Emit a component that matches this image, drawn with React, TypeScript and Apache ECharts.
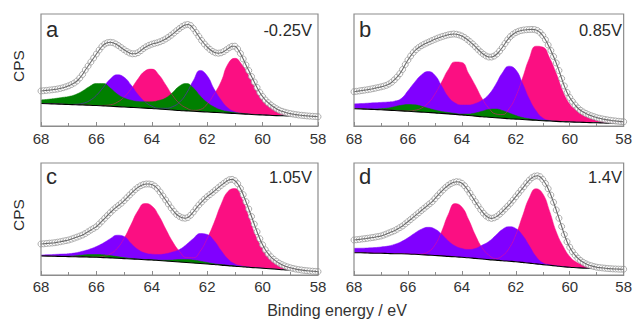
import React, { useEffect, useRef } from "react";
import * as echarts from "echarts";

// Binding energies (eV) of the fitted-component curves and of the measured scan
const componentEnergy = [68, 67.75, 67.5, 67.25, 67, 66.75, 66.5, 66.25, 66, 65.75, 65.5, 65.25, 65, 64.75, 64.5, 64.25, 64, 63.75, 63.5, 63.25, 63, 62.75, 62.5, 62.25, 62, 61.75, 61.5, 61.25, 61, 60.75, 60.5, 60.25, 60, 59.75, 59.5, 59.25, 59, 58.75, 58.5, 58.25, 58];
const scanEnergy = [68, 67.9, 67.8, 67.7, 67.6, 67.5, 67.4, 67.3, 67.2, 67.1, 67, 66.9, 66.8, 66.7, 66.6, 66.5, 66.4, 66.3, 66.2, 66.1, 66, 65.9, 65.8, 65.7, 65.6, 65.5, 65.4, 65.3, 65.2, 65.1, 65, 64.9, 64.8, 64.7, 64.6, 64.5, 64.4, 64.3, 64.2, 64.1, 64, 63.9, 63.8, 63.7, 63.6, 63.5, 63.4, 63.3, 63.2, 63.1, 63, 62.9, 62.8, 62.7, 62.6, 62.5, 62.4, 62.3, 62.2, 62.1, 62, 61.9, 61.8, 61.7, 61.6, 61.5, 61.4, 61.3, 61.2, 61.1, 61, 60.9, 60.8, 60.7, 60.6, 60.5, 60.4, 60.3, 60.2, 60.1, 60, 59.9, 59.8, 59.7, 59.6, 59.5, 59.4, 59.3, 59.2, 59.1, 59, 58.9, 58.8, 58.7, 58.6, 58.5, 58.4, 58.3, 58.2, 58.1, 58];

const panelLetters = ["a", "b", "c", "d"];
const potentials = ["-0.25V", "0.85V", "1.05V", "1.4V"];

// Panel a (-0.25 V)
const baselineA = [22.5, 22.3, 22, 21.8, 21.5, 21.3, 21, 20.8, 20.5, 20.1, 19.7, 19.4, 19, 18.6, 18.2, 17.9, 17.5, 17, 16.5, 16, 15.5, 15.1, 14.7, 14.4, 14, 13.6, 13.2, 12.9, 12.5, 12.1, 11.7, 11.3, 11, 10.7, 10.4, 10.2, 10, 9.8, 9.7, 9.6, 9.5];
const greenA = [26, 26.7, 27.5, 28.5, 29.5, 31.5, 35, 39.5, 42.5, 42.5, 38, 32, 28, 25.8, 24.5, 24.2, 24.3, 25.5, 28, 33.5, 40, 42.5, 38, 30, 23.5, 19, 16, 14.5, 13.5, 12.7, 12, 11.5, 11.1, 10.7, 10.4, 10.2, 10, 9.8, 9.7, 9.6, 9.5];
const purpleA = [22.5, 22.3, 22, 21.8, 21.6, 21.7, 22.6, 25.3, 30.7, 38.7, 46.9, 51.2, 48.8, 41, 31.5, 24.3, 19.9, 17.7, 17.7, 19.3, 23.8, 32.6, 45.5, 55.6, 50.2, 36.9, 26, 18, 14.2, 12.6, 11.9, 11.4, 11, 10.7, 10.4, 10.2, 10, 9.8, 9.7, 9.6, 9.5];
const pinkA = [22.5, 22.3, 22, 21.8, 21.5, 21.3, 21, 20.8, 20.5, 20.6, 21.2, 23.7, 28.9, 37.1, 47, 54.9, 56.9, 51.3, 41.3, 30.6, 22.6, 18, 15.7, 16.5, 22, 32, 44.3, 62, 67.7, 61.5, 50.4, 36.6, 25.5, 19.2, 16, 13.3, 11.8, 11, 10.4, 9.9, 9.6];
const scanA = [35, 35.3, 35.6, 35.9, 36.2, 36.6, 37, 37.6, 38.3, 39.2, 40.2, 41.5, 43, 45, 48, 51.5, 56, 60, 64, 68, 72, 76, 79.5, 82, 83.3, 83.7, 83.3, 82, 80.3, 78.3, 76.3, 74.5, 73, 72.2, 72.3, 73.3, 75.3, 77.5, 79.3, 80.7, 81.8, 82.6, 83.3, 84.3, 85.5, 87, 88.8, 90.8, 93, 95.3, 97.5, 99.5, 101, 101.5, 100.5, 97.5, 93.5, 89.5, 85.5, 82, 79, 76.5, 74.5, 73.2, 72.8, 73.2, 74.5, 76.3, 78.3, 79.7, 79.8, 77, 72.5, 67, 61, 55.5, 49.5, 44, 38.5, 33.5, 29.5, 26, 23.3, 21, 19, 17.3, 15.8, 14.7, 13.8, 13, 12.4, 11.9, 11.4, 11, 10.7, 10.4, 10.1, 9.9, 9.7, 9.5, 9.3];

// Panel b (0.85 V)
const baselineB = [17.2, 17, 16.8, 16.5, 16.2, 15.9, 15.5, 15.1, 14.7, 14.3, 13.9, 13.5, 13.1, 12.6, 12.1, 11.6, 11.1, 10.5, 9.9, 9.3, 8.8, 8.3, 7.8, 7.3, 6.9, 6.5, 6.1, 5.7, 5.3, 5, 4.6, 4.3, 4, 3.8, 3.6, 3.4, 3.2, 3, 2.8, 2.6, 2.5];
const greenB = [17.3, 17.2, 17.1, 17.1, 17.3, 17.9, 19.3, 20.7, 21.5, 21.2, 19.8, 17.8, 16, 14.5, 13.5, 12.6, 12, 12, 13, 14.8, 16.6, 17, 15.5, 13, 10.5, 8.5, 7.2, 6.3, 5.7, 5.2, 4.8, 4.4, 4.1, 3.8, 3.6, 3.4, 3.2, 3, 2.8, 2.6, 2.5];
const purpleB = [22, 22.4, 22.8, 23.2, 23.6, 24, 24.8, 27.4, 35.2, 43.8, 51.1, 54.5, 50.8, 40, 29, 23, 21, 21, 22.5, 25.8, 31.5, 41.3, 53.1, 59.8, 56.2, 42.6, 27.1, 15.3, 8, 5.5, 4.7, 4.3, 4, 3.8, 3.6, 3.4, 3.2, 3, 2.8, 2.6, 2.5];
const pinkB = [17.2, 17, 16.8, 16.5, 16.2, 15.9, 15.5, 15.1, 15, 15.7, 17.9, 22.9, 31.9, 44, 56.6, 64.1, 63.5, 52.5, 40.5, 27.5, 17.9, 12.1, 11.4, 17.3, 29.5, 47.9, 67.6, 79.8, 78.9, 68.3, 52.7, 34.6, 22, 15.5, 10.5, 7.8, 6, 5.2, 4.7, 4.4, 4.2];
const scanB = [34.3, 34.7, 35.1, 35.5, 35.9, 36.3, 36.8, 37.3, 37.9, 38.5, 39.1, 39.8, 40.7, 42, 43.8, 46.2, 49, 52.3, 56.5, 61.5, 66, 70, 73.5, 76.3, 78.5, 80.3, 81.8, 83, 84.3, 85.5, 86.7, 87.8, 88.8, 89.7, 90.5, 91.2, 91.7, 92, 91.7, 91, 90, 88.5, 86.5, 84.3, 82, 79.3, 76.5, 74, 71.8, 70, 69, 69, 70, 72, 75, 78.5, 82.5, 86.3, 89.5, 91.8, 93.5, 94.7, 95.5, 96, 96.3, 96.5, 96.6, 96.4, 95.5, 93.5, 90.5, 86.3, 81, 75.5, 69.5, 63, 55.5, 47.5, 40, 33.5, 28.5, 24.5, 21, 18, 15.7, 14, 12.5, 11.3, 10.2, 9.3, 8.4, 7.7, 7.1, 6.6, 6.1, 5.7, 5.3, 5, 4.7, 4.4, 4.2];

// Panel c (1.05 V)
const baselineC = [19, 18.9, 18.7, 18.5, 18.4, 18.2, 18.1, 17.9, 17.7, 17.4, 17.1, 16.8, 16.4, 16, 15.7, 15.3, 15, 14.5, 14, 13.5, 13, 12.5, 12, 11.5, 11, 10.5, 9.9, 9.4, 8.8, 8.3, 7.7, 7.2, 6.7, 6.2, 5.7, 5.2, 4.8, 4.4, 4, 3.6, 3.3];
const greenC = [19, 18.9, 18.8, 18.8, 18.9, 19.3, 19.9, 20.4, 20.5, 20.2, 19.4, 18.4, 17.4, 16.6, 16, 15.5, 15.2, 14.9, 14.8, 15, 15.4, 15.5, 14.9, 13.8, 12.5, 11.3, 10.4, 9.7, 9, 8.4, 7.7, 7.2, 6.7, 6.2, 5.7, 5.2, 4.8, 4.4, 4, 3.6, 3.3];
const purpleC = [20, 20.3, 20.6, 20.9, 21.3, 22.2, 23.8, 25.8, 28.5, 32, 36.3, 39.8, 38.5, 31.5, 25.5, 22, 20.8, 20.5, 21.2, 23, 25.5, 30.5, 36.5, 41.5, 40.5, 34.3, 24.5, 16, 11, 9, 8, 7.4, 6.9, 6.2, 5.7, 5.2, 4.8, 4.4, 4, 3.6, 3.3];
const pinkC = [19, 18.9, 18.7, 18.5, 18.4, 18.2, 18.1, 17.9, 17.9, 18.7, 21, 26.6, 36.7, 50.4, 64.2, 71.5, 69.1, 59.5, 46.2, 33.4, 23.6, 17.4, 17.3, 23.9, 36.5, 52.5, 70.5, 83.6, 86.4, 76.6, 58.6, 39.2, 26.7, 17.5, 13.5, 9.5, 7.5, 6, 5, 4.2, 3.7];
const scanC = [31, 31.2, 31.5, 31.8, 32, 32.3, 32.8, 33.3, 33.9, 34.4, 35, 35.9, 36.9, 37.9, 38.9, 40, 41.5, 43.2, 45, 46.6, 48.3, 51, 53.8, 56.7, 59.5, 62.3, 65, 67.4, 69.6, 71.8, 74.4, 77.2, 80, 82.8, 85.4, 87.6, 89.3, 90.5, 91, 91, 90.5, 89, 86.5, 83, 79, 75, 71, 67, 63.5, 60.5, 58.5, 57.2, 56.8, 57.5, 59.8, 63, 66.6, 70, 73, 75.8, 78.3, 80.5, 82.7, 85, 87.3, 89.6, 91.7, 93.7, 95.3, 95.6, 94.3, 91.3, 86.5, 80.3, 73.3, 66, 58.5, 50.8, 43.3, 36.3, 30.2, 25.2, 21.3, 18.2, 15.7, 13.6, 11.8, 10.3, 9.1, 8.1, 7.2, 6.5, 5.9, 5.4, 5, 4.6, 4.3, 4, 3.8, 3.6, 3.4];

// Panel d (1.4 V)
const baselineD = [22.3, 22.2, 22, 21.8, 21.7, 21.5, 21.3, 21.2, 21, 20.7, 20.3, 19.9, 19.5, 19.1, 18.6, 18.2, 17.7, 17.2, 16.6, 16, 15.4, 14.9, 14.3, 13.8, 13.3, 12.6, 11.9, 11.1, 10.4, 9.7, 9, 8.3, 7.7, 7.3, 6.9, 6.6, 6.3, 6.1, 5.9, 5.8, 5.7];
const purpleD = [26.7, 26.8, 27, 27.4, 28, 28.9, 30.6, 33.3, 37.2, 41.8, 45.8, 47.7, 46, 40.8, 34, 29, 26.5, 25.5, 26.5, 29.8, 33.5, 39.5, 45.5, 48.3, 46.5, 39.7, 29.2, 18.5, 12.2, 10.3, 9.3, 8.4, 7.7, 7.3, 6.9, 6.6, 6.3, 6.1, 5.9, 5.8, 5.7];
const pinkD = [22.3, 22.2, 22, 21.8, 21.7, 21.5, 21.3, 21.2, 21, 20.7, 21, 23.1, 29.9, 43.6, 60.8, 71.4, 68, 55.4, 39.9, 27.3, 19.9, 16.5, 19.2, 26.6, 40.2, 59, 77.2, 86.3, 81.3, 64.1, 43.3, 29, 18.5, 12.8, 10.3, 8.6, 7.6, 6.6, 6.2, 6, 5.8];
const scanD = [35, 35.3, 35.6, 36, 36.3, 36.7, 37.1, 37.5, 38, 38.5, 39, 39.9, 41, 42.1, 43.2, 44.3, 45.8, 47.4, 49, 51.2, 53.3, 55.5, 57.8, 60, 62.2, 64.5, 66.7, 68.9, 71.1, 73.3, 76.3, 79.3, 82.3, 85, 87.6, 89.8, 91.5, 92.7, 93.3, 93, 91.7, 89.2, 85.7, 81.7, 77.5, 73.3, 69.2, 65.3, 61.8, 59, 57.2, 56.6, 57.2, 58.6, 60.8, 63.3, 66, 68.8, 71.7, 74.9, 78.3, 81.7, 85, 88.3, 91.8, 94.8, 97.3, 98.8, 99.2, 98.3, 95.5, 91.5, 86.3, 80, 72.7, 65, 56.8, 48.5, 40.5, 33.3, 27.8, 23.3, 19.8, 16.8, 14.5, 12.7, 11.2, 10, 9.2, 8.4, 7.8, 7.4, 7.1, 6.8, 6.5, 6.3, 6.1, 6, 5.9, 5.8, 5.8];

const panelData = [
  { baseline: baselineA, pink: pinkA, purple: purpleA, green: greenA, scan: scanA },
  { baseline: baselineB, pink: pinkB, purple: purpleB, green: greenB, scan: scanB },
  { baseline: baselineC, pink: pinkC, purple: purpleC, green: greenC, scan: scanC },
  { baseline: baselineD, pink: pinkD, purple: purpleD, green: null, scan: scanD },
];

// Layout (pixels)
const gridBoxes = [
  { left: 41, top: 14, width: 277, height: 112 },
  { left: 354, top: 14, width: 279, height: 112 },
  { left: 41, top: 163, width: 277, height: 112 },
  { left: 354, top: 163, width: 279, height: 112 },
];
const labelMargins = [5, 5, 4, 4];

const FONT = '"Liberation Sans", Arial, Helvetica, sans-serif';
const FRAME = "#8c8c8c";
const PINK = "#fb0f82";
const PURPLE = "#8000ff";
const GREEN = "#008000";

const pairs = (xs: number[], ys: number[]) => xs.map((x, i) => [x, ys[i]]);

function buildOption() {
  const grid: any[] = [];
  const xAxis: any[] = [];
  const yAxis: any[] = [];
  const series: any[] = [];
  const graphic: any[] = [];

  gridBoxes.forEach((g, i) => {
    grid.push({ ...g, show: true, borderColor: FRAME, borderWidth: 1.2, backgroundColor: "transparent", z: 10 });
    xAxis.push({
      gridIndex: i,
      type: "value",
      min: 58,
      max: 68,
      interval: 2,
      inverse: true,
      z: 10,
      axisLine: { show: true, lineStyle: { color: FRAME, width: 1.2 } },
      axisTick: { show: true, inside: true, length: 4, lineStyle: { color: FRAME, width: 1 } },
      minorTick: { show: true, splitNumber: 2, length: 3, lineStyle: { color: FRAME, width: 1 } },
      splitLine: { show: false },
      minorSplitLine: { show: false },
      axisLabel: { show: true, showMinLabel: true, showMaxLabel: true, margin: labelMargins[i], fontSize: 15, color: "#333", fontFamily: FONT },
    });
    yAxis.push({ gridIndex: i, type: "value", min: 0, max: 112, show: false });

    const d = panelData[i];
    const area = (ys: number[], color: string) => ({
      type: "line",
      xAxisIndex: i,
      yAxisIndex: i,
      data: pairs(componentEnergy, ys),
      smooth: 0.5,
      symbol: "none",
      silent: true,
      lineStyle: { color, width: 0.5 },
      areaStyle: { color, opacity: 1 },
      z: 2,
    });
    series.push(area(d.pink, PINK));
    series.push(area(d.purple, PURPLE));
    if (d.green) series.push(area(d.green, GREEN));
    series.push({
      type: "line",
      xAxisIndex: i,
      yAxisIndex: i,
      data: pairs(componentEnergy, d.baseline),
      smooth: 0.5,
      symbol: "none",
      silent: true,
      lineStyle: { color: "#000", width: 1.1 },
      areaStyle: { color: "#ffffff", opacity: 1 },
      z: 3,
    });
    series.push({
      type: "scatter",
      xAxisIndex: i,
      yAxisIndex: i,
      data: pairs(scanEnergy, d.scan),
      symbol: "circle",
      symbolSize: 6,
      silent: true,
      itemStyle: { color: "#ffffff", borderColor: "#9a9a9a", borderWidth: 1 },
      z: 4,
    });
    series.push({
      type: "line",
      xAxisIndex: i,
      yAxisIndex: i,
      data: pairs(scanEnergy, d.scan),
      smooth: 0.4,
      symbol: "none",
      silent: true,
      lineStyle: { color: "#6a6a6a", width: 1.1 },
      z: 5,
    });

    const left = i % 2 === 0;
    const top = i < 2;
    graphic.push({
      type: "text",
      x: left ? 46 : 359,
      y: top ? 29.3 : 176.3,
      style: { text: panelLetters[i], fontSize: 22, fontFamily: FONT, fill: "#2a2a2a", align: "left", verticalAlign: "middle" },
      z: 20,
    });
    graphic.push({
      type: "text",
      x: left ? 312 : 622,
      y: top ? 30.2 : 177.2,
      style: { text: potentials[i], fontSize: 16.5, fontFamily: FONT, fill: "#2a2a2a", align: "right", verticalAlign: "middle" },
      z: 20,
    });
  });

  graphic.push({
    type: "text",
    x: 18,
    y: 66,
    rotation: Math.PI / 2,
    style: { text: "CPS", fontSize: 15.5, fontFamily: FONT, fill: "#2a2a2a", align: "center", verticalAlign: "middle" },
  });
  graphic.push({
    type: "text",
    x: 18,
    y: 215,
    rotation: Math.PI / 2,
    style: { text: "CPS", fontSize: 15.5, fontFamily: FONT, fill: "#2a2a2a", align: "center", verticalAlign: "middle" },
  });
  graphic.push({
    type: "text",
    x: 337,
    y: 310.4,
    style: { text: "Binding energy / eV", fontSize: 16, fontFamily: FONT, fill: "#333", align: "center", verticalAlign: "middle" },
  });

  return { animation: false, backgroundColor: "#ffffff", grid, xAxis, yAxis, series, graphic };
}

export default function App() {
  const ref = useRef<HTMLDivElement>(null);
  useEffect(() => {
    if (!ref.current) return;
    const chart = echarts.init(ref.current, undefined, { renderer: "svg" });
    chart.setOption(buildOption() as any);
    return () => chart.dispose();
  }, []);
  return <div ref={ref} style={{ position: "absolute", left: 0, top: 0, width: 635, height: 322 }} />;
}
